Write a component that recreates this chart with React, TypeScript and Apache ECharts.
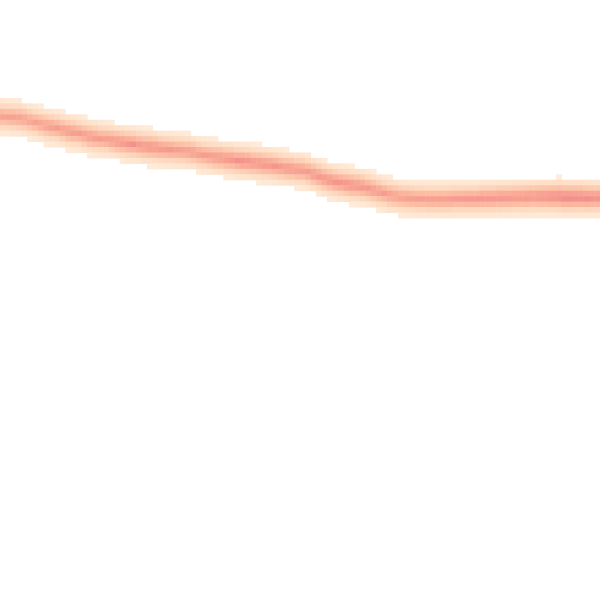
import React, { useEffect, useRef } from "react";
import * as echarts from "echarts";

// Grid of 110 x 110 cells; band rows are counted from the top.
const columnCount = 110;
const rowCount = 110;

// Centre row of the band for each column.
const bandCenter = [
  20.9, 21.0, 21.1, 21.2, 21.4, 21.7, 22.0, 22.3, 22.6, 22.8,
  23.0, 23.3, 23.6, 23.8, 24.0, 24.3, 24.6, 24.8, 25.0, 25.1,
  25.3, 25.5, 25.7, 25.9, 26.0, 26.2, 26.4, 26.5, 26.6, 26.8,
  26.9, 27.0, 27.1, 27.2, 27.3, 27.5, 27.8, 28.0, 28.2, 28.4,
  28.5, 28.7, 28.8, 29.0, 29.1, 29.2, 29.4, 29.5, 29.7, 29.8,
  30.0, 30.2, 30.4, 30.5, 30.7, 30.8, 31.1, 31.5, 31.9, 32.3,
  32.6, 32.9, 33.1, 33.3, 33.5, 33.6, 33.8, 34.1, 34.4, 34.7,
  35.0, 35.3, 35.5, 35.7, 35.8, 35.9, 36.0, 36.0, 36.1, 36.1,
  36.1, 36.1, 36.1, 36.0, 36.0, 36.0, 36.0, 36.0, 35.9, 35.9,
  35.9, 35.8, 35.8, 35.8, 35.7, 35.7, 35.7, 35.6, 35.6, 35.6,
  35.6, 35.6, 35.6, 35.7, 35.7, 35.7, 35.7, 35.8, 35.8, 35.8,
];

// Peak intensity of the band for each column (0..1).
const bandPeak = [
  0.7, 0.7, 0.71, 0.71, 0.7, 0.69, 0.69, 0.71, 0.73, 0.74,
  0.74, 0.74, 0.76, 0.76, 0.74, 0.74, 0.76, 0.76, 0.74, 0.74,
  0.77, 0.79, 0.8, 0.82, 0.82, 0.8, 0.8, 0.82, 0.8, 0.78,
  0.78, 0.77, 0.75, 0.74, 0.74, 0.74, 0.74, 0.74, 0.76, 0.78,
  0.79, 0.8, 0.82, 0.82, 0.84, 0.84, 0.82, 0.82, 0.82, 0.8,
  0.8, 0.79, 0.79, 0.78, 0.77, 0.77, 0.77, 0.79, 0.8, 0.8,
  0.82, 0.82, 0.82, 0.84, 0.84, 0.82, 0.8, 0.79, 0.77, 0.76,
  0.74, 0.74, 0.72, 0.72, 0.73, 0.73, 0.73, 0.73, 0.73, 0.73,
  0.73, 0.73, 0.75, 0.75, 0.75, 0.77, 0.77, 0.77, 0.79, 0.79,
  0.79, 0.8, 0.8, 0.8, 0.8, 0.8, 0.82, 0.82, 0.83, 0.85,
  0.87, 0.89, 0.91, 0.92, 0.92, 0.91, 0.9, 0.89, 0.87, 0.85,
];

// Relative intensity by distance (in rows) from the band centre.
const bandProfile = [1.0, 0.68, 0.38, 0.19, 0.06, 0.0];

const colorScale = ["#fff4e8", "#fee3cc", "#fdc9ae", "#f9ad98", "#f5968d", "#e07186"];

function profileAt(d: number): number {
  const a = Math.abs(d);
  const i = Math.floor(a);
  if (i >= bandProfile.length - 1) return 0;
  const f = a - i;
  return bandProfile[i] * (1 - f) + bandProfile[i + 1] * f;
}

function buildCells() {
  const cells: [number, number, number][] = [];
  for (let c = 0; c < columnCount; c++) {
    const center = bandCenter[c];
    for (let r = Math.floor(center) - 6; r <= Math.ceil(center) + 6; r++) {
      const v = bandPeak[c] * profileAt(r - center);
      if (v >= 0.1) cells.push([c, r, Math.round(v * 1000) / 1000]);
    }
  }
  return cells;
}

export default function App() {
  const ref = useRef<HTMLDivElement>(null);
  useEffect(() => {
    document.body.style.margin = "0";
    if (!ref.current) return;
    const chart = echarts.init(ref.current, null, { renderer: "svg" });
    const xCats = Array.from({ length: columnCount }, (_, i) => String(i));
    const yCats = Array.from({ length: rowCount }, (_, i) => String(i));
    chart.setOption({
      animation: false,
      backgroundColor: "#ffffff",
      grid: { left: 0, right: 0, top: 0, bottom: 0 },
      xAxis: { type: "category", data: xCats, show: false },
      yAxis: { type: "category", data: yCats, show: false, inverse: true },
      visualMap: {
        show: false,
        min: 0,
        max: 1,
        dimension: 2,
        inRange: { color: colorScale },
      },
      series: [
        {
          type: "heatmap",
          data: buildCells(),
          itemStyle: { borderWidth: 0 },
          emphasis: { disabled: true },
        },
      ],
    });
    return () => chart.dispose();
  }, []);
  return <div ref={ref} style={{ width: 600, height: 600 }} />;
}
